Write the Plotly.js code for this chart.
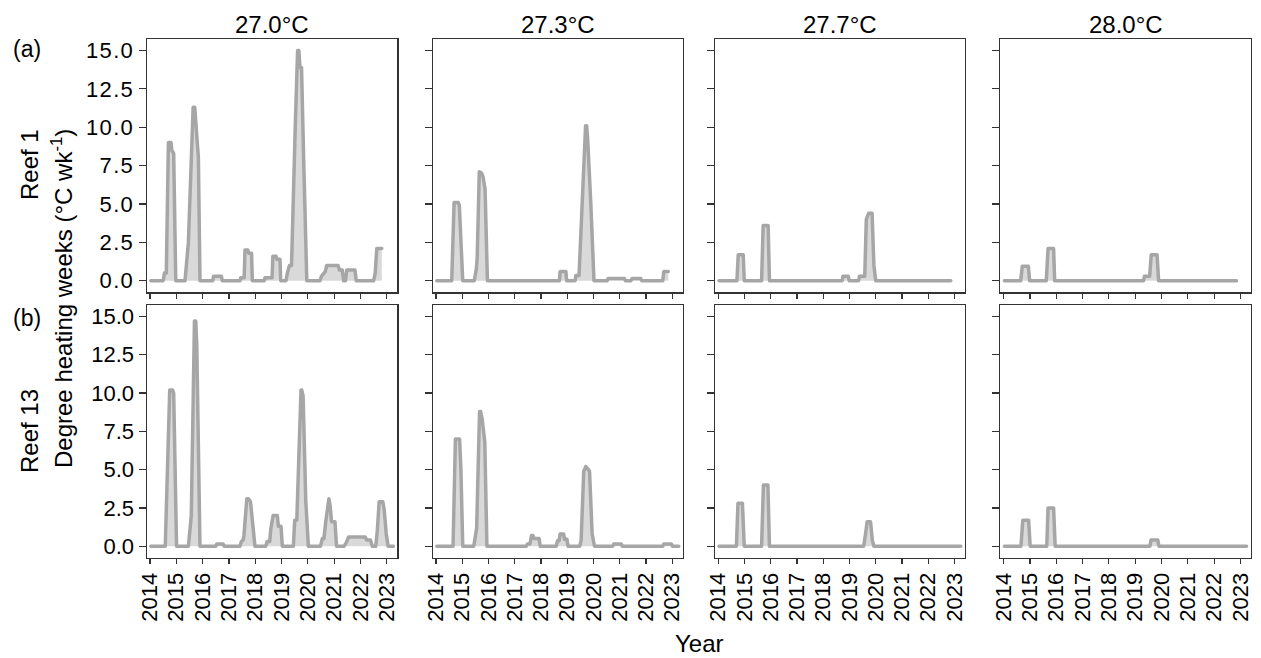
<!DOCTYPE html>
<html>
<head>
<meta charset="utf-8">
<script src="https://cdn.plot.ly/plotly-3.0.1.min.js"></script>
<style>
html,body{margin:0;padding:0;background:#fff;}
#chart{width:1261px;height:658px;}
#chart .xtick text, #chart .ytick text{letter-spacing:1.3px;}
#chart .scatterlayer path.js-line{stroke-linejoin:round;stroke-linecap:round;}
</style>
</head>
<body>
<div id="chart"></div>
<script>
// ---- categories / labels ----
const thresholds = ['27.0°C', '27.3°C', '27.7°C', '28.0°C'];
const reefs = ['Reef 1', 'Reef 13'];
const panelTags = ['(a)', '(b)'];
const yearTicks = [2014, 2015, 2016, 2017, 2018, 2019, 2020, 2021, 2022, 2023];
const dhwTicks = [0, 2.5, 5, 7.5, 10, 12.5, 15];

// ---- Reef 1, 27.0°C ----
const r1_270_x = [2014.03, 2014.50, 2014.55, 2014.62, 2014.70, 2014.80, 2014.83, 2014.90, 2014.98,
  2015.33, 2015.46, 2015.58, 2015.64, 2015.70, 2015.74, 2015.84, 2015.90,
  2016.38, 2016.42, 2016.71, 2016.75,
  2017.42, 2017.45, 2017.58, 2017.61, 2017.72, 2017.75, 2017.86, 2017.89,
  2018.34, 2018.37, 2018.64, 2018.67, 2018.79, 2018.82, 2018.94, 2018.97,
  2019.17, 2019.22, 2019.30, 2019.38, 2019.42, 2019.52, 2019.61, 2019.66, 2019.70, 2019.76, 2019.84, 2019.96,
  2020.46, 2020.52, 2020.66, 2020.72, 2021.15, 2021.20, 2021.31, 2021.36, 2021.43, 2021.48, 2021.79, 2021.84,
  2022.50, 2022.56, 2022.62, 2022.81];
const r1_270_y = [0, 0, 0.5, 0.5, 9.0, 9.0, 8.5, 8.3, 0,
  0, 2.5, 8.0, 11.3, 11.3, 10.3, 8.0, 0,
  0, 0.3, 0.3, 0,
  0, 0.2, 0.2, 2.0, 2.0, 1.8, 1.8, 0,
  0, 0.2, 0.2, 1.6, 1.6, 1.4, 1.4, 0,
  0, 0.5, 1.0, 1.0, 3.9, 10.0, 15.0, 15.0, 13.9, 13.9, 8.0, 0,
  0, 0.3, 0.6, 1.0, 1.0, 0.7, 0.7, 0, 0, 0.7, 0.7, 0,
  0, 0.5, 2.1, 2.1];

// ---- Reef 1, 27.3°C ----
const r1_273_x = [2014.03, 2014.60, 2014.69, 2014.85, 2014.89, 2015.02,
  2015.46, 2015.54, 2015.57, 2015.65, 2015.74, 2015.79, 2015.87, 2015.96,
  2018.70, 2018.73, 2018.95, 2018.98,
  2019.30, 2019.33, 2019.45, 2019.48, 2019.56, 2019.70, 2019.74, 2019.78, 2019.90, 2020.02,
  2020.52, 2020.56, 2021.18, 2021.22, 2021.43, 2021.47, 2021.80, 2021.84,
  2022.64, 2022.68, 2022.85];
const r1_273_y = [0, 0, 5.1, 5.1, 4.9, 0,
  0, 0.8, 1.5, 7.1, 7.0, 6.8, 6.0, 0,
  0, 0.6, 0.6, 0,
  0, 0.35, 0.35, 1.6, 5.0, 10.1, 10.1, 9.2, 5.0, 0,
  0, 0.15, 0.15, 0, 0, 0.15, 0.15, 0,
  0, 0.6, 0.6];

// ---- Reef 1, 27.7°C ----
const r1_277_x = [2014.03, 2014.71, 2014.76, 2014.95, 2014.99,
  2015.65, 2015.71, 2015.90, 2015.95,
  2018.72, 2018.75, 2018.95, 2018.99,
  2019.34, 2019.38, 2019.58, 2019.64, 2019.73, 2019.86, 2019.93, 2020.00, 2022.86];
const r1_277_y = [0, 0, 1.7, 1.7, 0,
  0, 3.6, 3.6, 0,
  0, 0.3, 0.3, 0,
  0, 0.3, 0.3, 4.0, 4.4, 4.4, 1.0, 0, 0];

// ---- Reef 1, 28.0°C ----
const r1_280_x = [2014.03, 2014.65, 2014.71, 2014.94, 2014.99,
  2015.62, 2015.69, 2015.90, 2015.94,
  2019.32, 2019.35, 2019.55, 2019.61, 2019.83, 2019.89, 2022.85];
const r1_280_y = [0, 0, 0.95, 0.95, 0,
  0, 2.1, 2.1, 0,
  0, 0.3, 0.3, 1.7, 1.7, 0, 0];

// ---- Reef 13, 27.0°C ----
const r13_270_x = [2014.03, 2014.58, 2014.75, 2014.86, 2014.90, 2015.01,
  2015.46, 2015.53, 2015.57, 2015.69, 2015.74, 2015.78, 2015.90,
  2016.50, 2016.54, 2016.78, 2016.82,
  2017.42, 2017.47, 2017.54, 2017.57, 2017.68, 2017.74, 2017.82, 2017.99,
  2018.40, 2018.45, 2018.55, 2018.59, 2018.68, 2018.84, 2018.88, 2018.98, 2019.03,
  2019.45, 2019.50, 2019.58, 2019.74, 2019.77, 2019.82, 2019.92, 2020.02,
  2020.48, 2020.55, 2020.61, 2020.68, 2020.77, 2020.80, 2020.85, 2020.90, 2021.03, 2021.09,
  2021.38, 2021.45, 2021.55, 2022.18, 2022.24, 2022.38, 2022.45,
  2022.58, 2022.64, 2022.71, 2022.85, 2022.90, 2022.98, 2023.05, 2023.25];
const r13_270_y = [0, 0, 10.2, 10.2, 10.0, 0,
  0, 1.7, 2.0, 14.7, 14.7, 13.0, 0,
  0, 0.15, 0.15, 0,
  0, 0.3, 0.4, 0.7, 3.1, 3.1, 2.9, 0,
  0, 0.3, 0.3, 1.1, 2.0, 2.0, 1.3, 1.3, 0,
  0, 1.7, 1.7, 10.2, 10.2, 9.8, 3.0, 0,
  0, 0.5, 0.5, 1.6, 3.1, 3.1, 2.6, 1.6, 1.6, 0,
  0, 0.2, 0.6, 0.6, 0.4, 0.4, 0,
  0, 1.0, 2.9, 2.9, 2.4, 0.8, 0, 0];

// ---- Reef 13, 27.3°C ----
const r13_273_x = [2014.03, 2014.65, 2014.74, 2014.90, 2014.95, 2015.02,
  2015.44, 2015.50, 2015.55, 2015.66, 2015.70, 2015.76, 2015.86, 2015.94,
  2017.44, 2017.49, 2017.58, 2017.64, 2017.69, 2017.74, 2017.93, 2017.97,
  2018.58, 2018.63, 2018.69, 2018.73, 2018.86, 2018.90, 2018.99, 2019.03,
  2019.48, 2019.53, 2019.63, 2019.71, 2019.75, 2019.85, 2019.95, 2020.04,
  2020.73, 2020.77, 2021.06, 2021.10,
  2022.64, 2022.68, 2022.97, 2023.01, 2023.25];
const r13_273_y = [0, 0, 7.0, 7.0, 5.0, 0,
  0, 0.5, 1.2, 8.8, 8.8, 8.3, 6.8, 0,
  0, 0.15, 0.15, 0.7, 0.7, 0.5, 0.5, 0,
  0, 0.35, 0.35, 0.8, 0.8, 0.45, 0.45, 0,
  0, 0.4, 4.9, 5.2, 5.1, 4.9, 0.8, 0,
  0, 0.15, 0.15, 0,
  0, 0.15, 0.15, 0, 0];

// ---- Reef 13, 27.7°C ----
const r13_277_x = [2014.03, 2014.69, 2014.75, 2014.92, 2014.99,
  2015.65, 2015.72, 2015.89, 2015.95,
  2019.54, 2019.61, 2019.67, 2019.80, 2019.87, 2019.93, 2023.24];
const r13_277_y = [0, 0, 2.8, 2.8, 0,
  0, 4.0, 4.0, 0,
  0, 0.8, 1.6, 1.6, 0.4, 0, 0];

// ---- Reef 13, 28.0°C ----
const r13_280_x = [2014.03, 2014.66, 2014.73, 2014.95, 2015.01,
  2015.64, 2015.69, 2015.90, 2015.96,
  2019.56, 2019.60, 2019.86, 2019.90, 2023.23];
const r13_280_y = [0, 0, 1.7, 1.7, 0,
  0, 2.5, 2.5, 0,
  0, 0.4, 0.4, 0, 0];

const seriesX = [r1_270_x, r1_273_x, r1_277_x, r1_280_x, r13_270_x, r13_273_x, r13_277_x, r13_280_x];
const seriesY = [r1_270_y, r1_273_y, r1_277_y, r1_280_y, r13_270_y, r13_273_y, r13_277_y, r13_280_y];

// ---- layout geometry (pixels) ----
const W = 1261, H = 658;
const colPx = [[146.7, 397.3], [432.7, 682.7], [715, 965], [1000.3, 1251]];
const rowPx = [[39, 292.3], [305, 557.7]];
const FONT = 'Liberation Sans, Arial, Helvetica, sans-serif';
const LINE = '#a6a6a6', FILL = '#d9d9d9', AX = '#333333';

const traces = [];
const layout = {
  width: W, height: H,
  margin: {l: 0, r: 0, t: 0, b: 0},
  paper_bgcolor: '#ffffff', plot_bgcolor: '#ffffff',
  showlegend: false,
  font: {family: FONT, color: '#000'},
  annotations: []
};

for (let r = 0; r < 2; r++) {
  for (let c = 0; c < 4; c++) {
    const p = r * 4 + c;
    const id = p + 1;
    const xa = id === 1 ? 'xaxis' : 'xaxis' + id;
    const ya = id === 1 ? 'yaxis' : 'yaxis' + id;
    traces.push({
      type: 'scatter', mode: 'lines',
      x: seriesX[p], y: seriesY[p],
      xaxis: 'x' + (id === 1 ? '' : id), yaxis: 'y' + (id === 1 ? '' : id),
      fill: 'tozeroy', fillcolor: FILL,
      line: {color: LINE, width: 3.5},
      hoverinfo: 'skip'
    });
    layout[xa] = {
      domain: [colPx[c][0] / W, colPx[c][1] / W],
      anchor: 'y' + (id === 1 ? '' : id),
      range: [2013.875, 2023.4],
      tickvals: yearTicks,
      ticktext: yearTicks.map(String),
      showticklabels: r === 1,
      tickangle: -90,
      ticks: 'outside', ticklen: 5, tickwidth: 1.2, tickcolor: AX,
      tickfont: {family: FONT, size: 22, color: '#000'},
      showline: true, linecolor: AX, linewidth: 1.2, mirror: true,
      showgrid: false, zeroline: false, fixedrange: true
    };
    layout[ya] = {
      domain: [1 - rowPx[r][1] / H, 1 - rowPx[r][0] / H],
      anchor: 'x' + (id === 1 ? '' : id),
      range: [-0.75, 15.75],
      tickvals: dhwTicks,
      ticktext: dhwTicks.map(v => v.toFixed(1)),
      showticklabels: c === 0,
      ticks: 'outside', ticklen: 7, tickwidth: 1.2, tickcolor: AX,
      tickfont: {family: FONT, size: 22, color: '#000'},
      showline: true, linecolor: AX, linewidth: 1.2, mirror: true,
      showgrid: false, zeroline: false, fixedrange: true
    };
  }
}

function ann(text, px, py, opts) {
  return Object.assign({
    text: text, xref: 'paper', yref: 'paper',
    x: px / W, y: 1 - py / H, xanchor: 'center', yanchor: 'middle',
    showarrow: false, font: {family: FONT, size: 24, color: '#000'}
  }, opts || {});
}

thresholds.forEach((t, c) => {
  layout.annotations.push(ann(t, (colPx[c][0] + colPx[c][1]) / 2, 24));
});
layout.annotations.push(ann(panelTags[0], 27, 49, {font: {family: FONT, size: 23, color: '#000'}}));
layout.annotations.push(ann(panelTags[1], 27, 318, {font: {family: FONT, size: 23, color: '#000'}}));
layout.annotations.push(ann(reefs[0], 29, 165, {textangle: -90}));
layout.annotations.push(ann(reefs[1], 29, 431, {textangle: -90}));
layout.annotations.push(ann('Degree heating weeks (°C wk<sup>-1</sup>)', 62, 299, {textangle: -90}));
layout.annotations.push(ann('Year', 699, 643));

Plotly.newPlot('chart', traces, layout, {staticPlot: true, displayModeBar: false});
</script>
</body>
</html>
